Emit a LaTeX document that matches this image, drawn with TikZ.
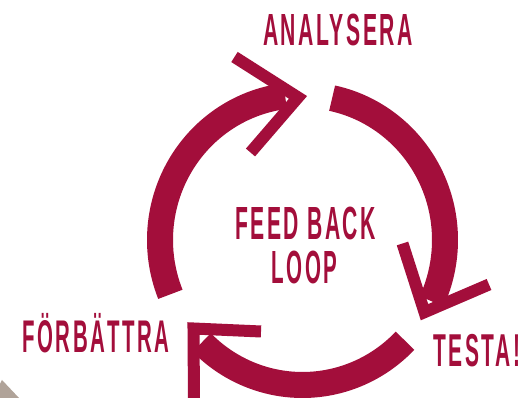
\documentclass[tikz,border=0pt]{standalone}
\usepackage{fontspec}
\setmainfont{Liberation Sans}
\usepackage{graphicx}
\usetikzlibrary{calc}
\definecolor{crim}{RGB}{163,14,59}
\definecolor{bgcorner}{RGB}{176,163,153}
\newcommand\fitlabel[3]{\resizebox{#1}{#2}{\vphantom{X}\smash{\bfseries\addfontfeature{LetterSpace=12}#3}}}
\begin{document}
\begin{tikzpicture}[x=1pt,y=1pt,
  ring/.style={draw=crim,line width=26pt,line cap=butt},
  chev/.style={draw=crim,line width=12pt,line cap=butt,line join=miter,miter limit=10},
  lbl/.style={inner sep=0pt,outer sep=0pt,anchor=south west,text=crim}]
\useasboundingbox (0,0) rectangle (528,398);
\fill[white] (0,0) rectangle (528,398);
\fill[bgcorner] (0,0) -- (0,14) -- (2,18) -- (19,0) -- cycle;
\coordinate (C) at (302.5,158);
% arcs
\draw[ring] ($(C)+(202:142.5 and 145)$) coordinate (a1s) arc[start angle=202,end angle=97,x radius=142.5,y radius=145] coordinate (a1e);
\draw[ring] ($(C)+(78:142.5 and 145)$) coordinate (a2s) arc[start angle=78,end angle=-25,x radius=142.5,y radius=145] coordinate (a2e);
\draw[ring] ($(C)+(-44:142.5 and 145)$) coordinate (a3s) arc[start angle=-44,end angle=-135,x radius=142.5,y radius=145] coordinate (a3e);
% chevrons
\coordinate (t1) at (234.5,341); \coordinate (tv) at (298,300.6); \coordinate (t2) at (250.5,245.5);
\coordinate (r1) at (402.5,154.5); \coordinate (rv) at (424.5,85.8); \coordinate (r2) at (489,113.5);
\coordinate (b1) at (261,66.5); \coordinate (bv) at (193.5,69.5); \coordinate (b2) at (194,-6);
\draw[chev] (t1) -- (tv) -- (t2);
\draw[chev] (r1) -- (rv) -- (r2);
\draw[chev] (b1) -- (bv) -- (b2);
% labels
\node[lbl] (analysera) at (263,352.3) {\fitlabel{150pt}{31pt}{ANALYSERA}};
\node[lbl] (feed) at (235,158) {\fitlabel{141pt}{32pt}{FEED BACK}};
\node[lbl] (loop) at (271.7,114) {\fitlabel{65.6pt}{32pt}{LOOP}};
\node[lbl] (forb) at (22.7,45.7) {\fitlabel{146.7pt}{31.5pt}{FÖRBÄTTRA}};
\node[lbl] (testa) at (433.3,31.3) {\fitlabel{86.7pt}{31.7pt}{TESTA!}};
\end{tikzpicture}
\end{document}
